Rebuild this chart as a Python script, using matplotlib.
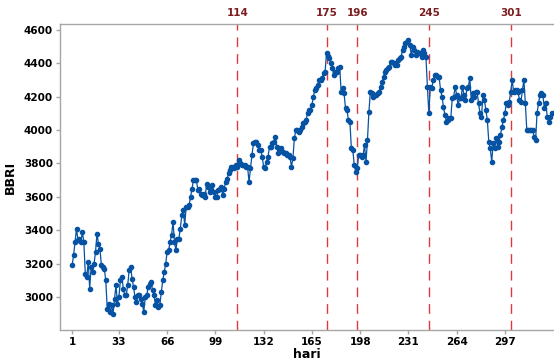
import matplotlib
matplotlib.use("Agg")
import matplotlib.pyplot as plt

# harga penutupan BBRI per hari
bbri = [
    3190, 3250, 3330, 3410, 3340, 3350, 3330, 3390, 3330, 3140,
    3120, 3210, 3050, 3180, 3150, 3200, 3270, 3380, 3320, 3290,
    3190, 3180, 3170, 3100, 2930, 2960, 2910, 2950, 2900, 2990,
    3070, 2960, 3000, 3100, 3120, 3050, 3010, 3010, 3070, 3160,
    3180, 3110, 3060, 3000, 2970, 3010, 3010, 2990, 2960, 2910,
    3000, 3010, 3060, 3080, 3090, 3040, 3010, 2950, 2980, 2940,
    2950, 3030, 3100, 3150, 3200, 3270, 3280, 3330, 3370, 3450,
    3330, 3280, 3350, 3350, 3410, 3490, 3520, 3430, 3540, 3540,
    3550, 3600, 3650, 3700, 3700, 3700, 3640, 3650, 3620, 3610,
    3620, 3600, 3680, 3660, 3630, 3640, 3670, 3630, 3600,
    3600, 3640, 3650, 3660, 3610, 3650, 3690, 3710, 3740, 3760,
    3780, 3780, 3770, 3790, 3780, 3820, 3800, 3790, 3790, 3790,
    3780, 3780, 3690, 3770, 3850, 3920, 3930, 3930, 3910, 3880,
    3880, 3840, 3780, 3770, 3810, 3840, 3900, 3900, 3920, 3930,
    3960, 3900, 3860, 3880, 3890, 3870, 3860, 3860, 3850,
    3850, 3840, 3780, 3830, 3950, 4000, 4000, 3990, 4000, 4020,
    4040, 4050, 4060, 4100, 4120, 4120, 4150, 4200, 4240, 4250,
    4270, 4300, 4300, 4310, 4340, 4350,
    4460, 4445, 4430, 4400, 4370, 4330, 4350, 4350, 4370, 4380,
    4230, 4250, 4220, 4130, 4120, 4060, 4050, 3890, 3880, 3790,
    3750, 3770,
    3850, 3850, 3840, 3850, 3910, 3810, 3940, 4110, 4230, 4220,
    4200, 4210, 4210, 4220, 4230, 4260, 4290, 4320, 4350, 4360,
    4370, 4380, 4410, 4410, 4400, 4390, 4390, 4420, 4430, 4440,
    4480, 4500, 4520, 4530, 4540, 4510, 4450, 4500, 4480, 4450,
    4470, 4460, 4460, 4440, 4480, 4460, 4440, 4260, 4100, 4260,
    4250, 4300, 4330, 4330, 4320, 4320, 4240, 4200, 4140, 4090,
    4050, 4060, 4070, 4070, 4190, 4200, 4260, 4210, 4150, 4190,
    4190, 4260, 4210, 4180, 4250, 4260, 4310, 4180, 4220, 4200,
    4230, 4230, 4160, 4100, 4080, 4210, 4180, 4120, 4060, 3930,
    3890, 3810, 3920, 3890, 3950, 3900, 3930, 3970, 4020, 4060,
    4100, 4160, 4150, 4170, 4230, 4300, 4230, 4240, 4240, 4230,
    4180, 4170, 4240, 4300, 4160, 4000, 4000, 4000, 4000, 4000,
    3960, 3940, 4100, 4160, 4210, 4220, 4210, 4130, 4160, 4080,
    4050, 4080, 4100,
]
hari = list(range(1, len(bbri) + 1))

garis = [114, 175, 196, 245, 301]
xticks = [1, 33, 66, 99, 132, 165, 198, 231, 264, 297]
yticks = [3000, 3200, 3400, 3600, 3800, 4000, 4200, 4400, 4600]

biru = "#0652A3"

fig = plt.figure(figsize=(5.54, 3.63), dpi=100)
ax = fig.add_axes([60 / 554, 33 / 363, 494 / 554, 306 / 363])

ax.plot(hari, bbri, color=biru, linewidth=0.9, marker="o",
        markersize=3.0, markerfacecolor=biru, markeredgecolor=biru, zorder=3)

for g in garis:
    ax.axvline(g, color="#E0393B", linestyle=(0, (7, 5)), linewidth=1.0, zorder=2)
    ax.text(g, 1.02, str(g), transform=ax.get_xaxis_transform(),
            ha="center", va="bottom", fontsize=7.5, fontweight="bold",
            color="#7B1E22")

ax.set_xlim(-7.3, 330.6)
ax.set_ylim(2802, 4636)
ax.set_xticks(xticks)
ax.set_yticks(yticks)

for s in ["left", "bottom", "top"]:
    ax.spines[s].set_color("#A6A6A6")
    ax.spines[s].set_linewidth(1.0)
ax.spines["right"].set_visible(False)
ax.tick_params(axis="both", colors="#A6A6A6", length=3, width=1.0,
               labelcolor="black", labelsize=7.5, pad=2)
for lab in ax.get_xticklabels() + ax.get_yticklabels():
    lab.set_fontweight("bold")

ax.set_xlabel("hari", fontsize=9, fontweight="bold", labelpad=1)
ax.set_ylabel("BBRI", fontsize=9, fontweight="bold", labelpad=5)

fig.savefig("out.png", dpi=100)
